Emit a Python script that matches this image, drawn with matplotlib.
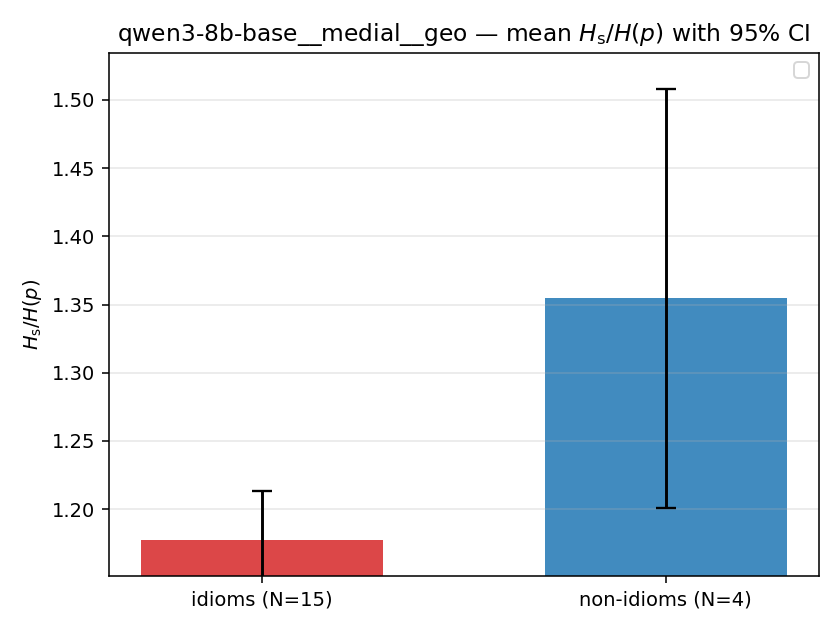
import matplotlib
matplotlib.use("Agg")
import matplotlib.pyplot as plt

# values
groups = ["idioms (N=15)", "non-idioms (N=4)"]
means = [1.1772, 1.3544]
ci_low = [1.1412, 1.2007]
ci_high = [1.2132, 1.5081]
colors = ["#d62728", "#1f77b4"]

yerr = [[m - lo for m, lo in zip(means, ci_low)],
        [hi - m for m, hi in zip(means, ci_high)]]

fig, ax = plt.subplots(figsize=(6, 4.5), dpi=140)
x = list(range(len(groups)))
ax.bar(x, means, width=0.6, color=colors, alpha=0.85)
ax.errorbar(x, means, yerr=yerr, fmt="none", ecolor="black",
            elinewidth=1.5, capsize=5, capthick=1.2)

ax.set_xticks(x)
ax.set_xticklabels(groups)
ax.set_ylim(1.1507, 1.5346)
ax.set_ylabel(r"$H_{\mathrm{s}}/H(p)$")
ax.set_title(r"qwen3-8b-base__medial__geo — mean $H_{\mathrm{s}}/H(p)$ with 95% CI")
ax.grid(True, axis="y", alpha=0.3)
ax.legend(handles=[], loc="upper right")

fig.tight_layout()
fig.savefig("out.png")
